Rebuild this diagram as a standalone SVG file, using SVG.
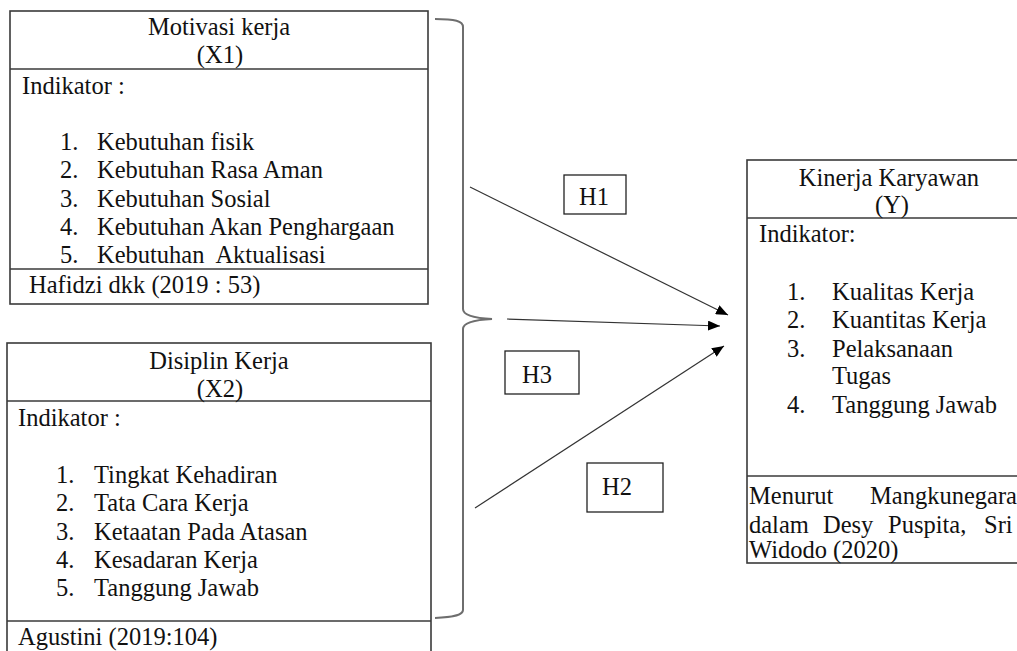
<svg xmlns="http://www.w3.org/2000/svg" width="1017" height="651" viewBox="0 0 1017 651">
<defs>
<style>
.box{fill:none;stroke:#3a3a3a;stroke-width:1.6}
.t{font-family:"Liberation Serif","Times New Roman",serif;font-size:24.5px;fill:#111}
.c{text-anchor:middle}
.h{fill:none;stroke:#222;stroke-width:1.3}
.brace{fill:none;stroke:#6e6e6e;stroke-width:2}
.arrow{fill:none;stroke:#333;stroke-width:1.2;marker-end:url(#ah)}
</style>
<marker id="ah" viewBox="0 0 12 10" refX="12" refY="5" markerWidth="12" markerHeight="10" markerUnits="userSpaceOnUse" orient="auto">
<path d="M0,0 L12,5 L0,10 Z" fill="#000"/>
</marker>
</defs>
<g id="node-x1">
<rect class="box" x="10" y="11" width="418" height="293"/>
<line class="box" x1="10" y1="69" x2="428" y2="69"/>
<line class="box" x1="10" y1="269" x2="428" y2="269"/>
<text class="t c" x="219" y="35">Motivasi kerja</text>
<text class="t c" x="220" y="63">(X1)</text>
<text class="t" x="22" y="94">Indikator :</text>
<text class="t" x="60" y="150">1.</text><text class="t" x="97" y="150">Kebutuhan fisik</text>
<text class="t" x="60" y="178">2.</text><text class="t" x="97" y="178">Kebutuhan Rasa Aman</text>
<text class="t" x="60" y="207">3.</text><text class="t" x="97" y="207">Kebutuhan Sosial</text>
<text class="t" x="60" y="235">4.</text><text class="t" x="97" y="235">Kebutuhan Akan Penghargaan</text>
<text class="t" x="60" y="263">5.</text><text class="t" x="97" y="263" xml:space="preserve">Kebutuhan  Aktualisasi</text>
<text class="t" x="29" y="293">Hafidzi dkk (2019 : 53)</text>
</g>
<g id="node-x2">
<rect class="box" x="7" y="343" width="424" height="312"/>
<line class="box" x1="7" y1="401" x2="431" y2="401"/>
<line class="box" x1="7" y1="621" x2="431" y2="621"/>
<text class="t c" x="219" y="369">Disiplin Kerja</text>
<text class="t c" x="220" y="397">(X2)</text>
<text class="t" x="18" y="426">Indikator :</text>
<text class="t" x="56" y="483">1.</text><text class="t" x="94" y="483">Tingkat Kehadiran</text>
<text class="t" x="56" y="511">2.</text><text class="t" x="94" y="511">Tata Cara Kerja</text>
<text class="t" x="56" y="540">3.</text><text class="t" x="94" y="540">Ketaatan Pada Atasan</text>
<text class="t" x="56" y="568">4.</text><text class="t" x="94" y="568">Kesadaran Kerja</text>
<text class="t" x="56" y="596">5.</text><text class="t" x="94" y="596">Tanggung Jawab</text>
<text class="t" x="18" y="645">Agustini (2019:104)</text>
</g>
<g id="node-y">
<rect class="box" x="747" y="160" width="290" height="403"/>
<line class="box" x1="747" y1="218" x2="1037" y2="218"/>
<line class="box" x1="747" y1="476" x2="1037" y2="476"/>
<text class="t c" x="889" y="186">Kinerja Karyawan</text>
<text class="t c" x="892" y="213">(Y)</text>
<text class="t" x="759" y="242">Indikator:</text>
<text class="t" x="787" y="300">1.</text><text class="t" x="832" y="300">Kualitas Kerja</text>
<text class="t" x="787" y="328">2.</text><text class="t" x="832" y="328">Kuantitas Kerja</text>
<text class="t" x="787" y="357">3.</text><text class="t" x="832" y="357">Pelaksanaan</text>
<text class="t" x="832" y="384">Tugas</text>
<text class="t" x="787" y="413">4.</text><text class="t" x="832" y="413">Tanggung Jawab</text>
<text class="t" x="749" y="504">Menurut</text><text class="t" x="870" y="504">Mangkunegara</text>
<text class="t" x="749" y="533">dalam</text><text class="t" x="823" y="533">Desy</text><text class="t" x="888" y="533">Puspita,</text><text class="t" x="984" y="533">Sri</text>
<text class="t" x="749" y="558">Widodo (2020)</text>
</g>
<g id="label-h1">
<rect class="h" x="564" y="175" width="62" height="39"/>
<text class="t" x="579" y="205">H1</text>
</g>
<g id="label-h3">
<rect class="h" x="505" y="351" width="74" height="43"/>
<text class="t" x="522" y="383">H3</text>
</g>
<g id="label-h2">
<rect class="h" x="587" y="463" width="76" height="49"/>
<text class="t" x="602" y="495">H2</text>
</g>
<g id="connectors">
<path class="brace" d="M435,19 C455,19 463,21 463,27 L463,309 C463,315 472,318 492,319 C472,320 463,323 463,329 L463,610 C463,615 455,617 435,618"/>
<line class="arrow" x1="470" y1="187" x2="728" y2="315"/>
<line class="arrow" x1="507" y1="319" x2="720" y2="326"/>
<line class="arrow" x1="475" y1="508" x2="724" y2="346"/>
</g>
</svg>
